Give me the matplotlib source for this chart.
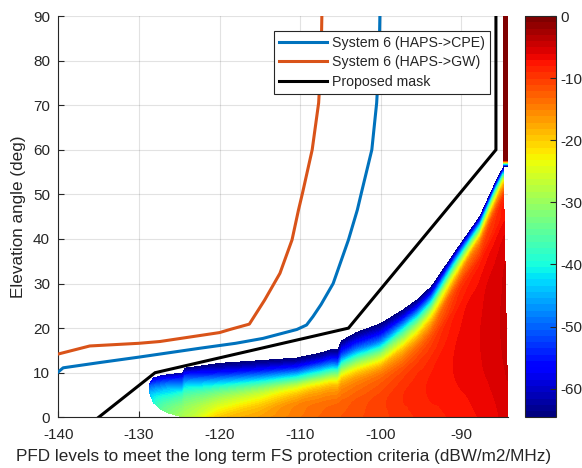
import numpy as np
import matplotlib
matplotlib.use("Agg")
import matplotlib.pyplot as plt
from matplotlib.tri import (Triangulation, UniformTriRefiner,
                            CubicTriInterpolator, LinearTriInterpolator)

plt.rcParams['font.family'] = ['Liberation Sans', 'DejaVu Sans']

TEXT = (0.15, 0.15, 0.15)

# ---- PFD requirement curves (dBW/m2/MHz vs elevation, deg) ----
cpe_pfd = [-140, -139.4, -134.8, -130, -122.4, -118, -114.6, -112.5, -110.4,
           -109.2, -108.4, -107.4, -105.9, -104.0, -102.9, -102.4, -101.1,
           -100.5, -100.2, -100.1]
cpe_elev = [10.2, 11.1, 12.3, 13.5, 15.5, 16.6, 17.7, 18.7, 19.7,
            20.7, 22.6, 25.3, 30, 39.8, 46.5, 50.3, 60, 70.5, 80, 90]

gw_pfd = [-140, -136.1, -130, -127.4, -120, -118.7, -116.3, -114.4, -112.5,
          -111.0, -110.2, -109.7, -108.5, -107.7, -107.4, -107.3]
gw_elev = [14.2, 16.0, 16.6, 17.0, 19.0, 19.7, 20.9, 26.3, 32.3,
           39.8, 46.5, 50.3, 60, 70.5, 80, 90]

mask_pfd = [-135, -128, -104, -85.7, -85.7]
mask_elev = [0, 10, 20, 60, 90]

# ---- Interference field (dB) on a boundary-following grid ----
# columns: PFD value, lower and upper elevation limit of the valid region
field_pfd = [-128.7, -128.2, -127.3, -126.2, -124.6, -124.3, -120.0, -115.0,
             -110.4, -107.5, -106.0, -105.3, -104.8, -103.0, -100.0, -97.2,
             -95.5, -93.7, -90.6, -87.7, -85.8, -84.5]
field_elev_low = [5.6, 3.3, 1.8, 0.9, 0.1, 0, 0, 0,
                  0, 0, 0, 0, 0, 0, 0, 0,
                  0, 0, 0, 0, 0, 0]
field_elev_high = [7.4, 8.8, 9.3, 9.6, 9.9, 11.0, 12.1, 12.7,
                   13.3, 14.4, 15.2, 15.3, 17.2, 19.0, 21.0, 24.1,
                   26.3, 29.3, 37.5, 45.0, 52.5, 56.0]
# relative position between lower and upper limit for each row
field_rows = [0, 0.25, 0.5, 0.65, 0.8, 0.9, 0.96, 1.0]
# one list per column, from lower limit to upper limit
field_values = [
    [-46, -47, -49, -50, -52, -54, -55, -57],
    [-40, -42, -46, -49, -53, -56, -58, -60],
    [-35, -38, -43, -47, -52, -56, -59, -61],
    [-32, -35, -41, -45, -51, -56, -60, -62],
    [-29, -32, -38, -44, -51, -56, -60, -63],
    [-28, -31, -37, -43, -51, -57, -62, -64.3],
    [-20, -26, -35, -44, -54, -60, -63, -64.3],
    [-17, -21, -31, -42, -53.5, -60, -63, -64.3],
    [-14.5, -16, -25, -38, -52, -59.5, -63, -64.3],
    [-13, -14.5, -22, -35, -50, -59, -63, -64.3],
    [-12.5, -14, -21, -34, -50, -58.5, -62.5, -64.3],
    [-12.3, -13.8, -21, -34, -51, -59, -63, -64.3],
    [-12, -13.5, -20, -33, -50, -58, -62.5, -64.3],
    [-11.3, -12.5, -18.5, -31, -48.5, -57.5, -62, -64.3],
    [-10.5, -11, -16, -28, -47, -57, -62, -64.3],
    [-9.5, -9.3, -13, -21, -38, -53, -61, -64.3],
    [-9, -8.6, -11, -17, -33, -50, -60, -64.3],
    [-8.5, -7.8, -9.5, -13, -26, -45, -58, -64.3],
    [-7.8, -7.0, -7.3, -8.5, -14, -31, -50, -64.3],
    [-7.0, -6.2, -6.2, -6.8, -10, -21, -45, -64.3],
    [-6.3, -5.5, -5.5, -6.0, -8.5, -15, -36, -64.3],
    [-5.5, -4.8, -4.8, -5.3, -7.5, -12, -30, -64.3],
]
# right-hand edge of the field: x at the bottom and at the top of the last column
edge_x_bottom, edge_x_top = -84.2, -84.8

# narrow column at the upper end of the PFD range
strip_pfd = [-84.8, -84.2]
strip_elev = [56.2, 56.7, 57.1, 57.6, 90]
strip_values = [-64, -42, -22, -1, -1]

cmin, cmax = -64.6, 0

# ---- Figure ----
fig = plt.figure(figsize=(5.82, 4.68), dpi=100)
ax = fig.add_axes([0.1002, 0.1083, 0.7727, 0.8575])
cax = fig.add_axes([0.902, 0.1083, 0.0533, 0.8575])

cmap = plt.get_cmap('jet', 64)
levels = np.linspace(cmin, cmax, 65)

# physical node positions of the boundary-following grid
nr, nc = len(field_rows), len(field_pfd)
s = np.array(field_rows)[:, None]
X = np.tile(np.array(field_pfd, dtype=float), (nr, 1))
X[:, -1] = edge_x_bottom + s[:, 0] * (edge_x_top - edge_x_bottom)
lo = np.array(field_elev_low)[None, :]
hi = np.array(field_elev_high)[None, :]
Y = lo + s * (hi - lo)
V = np.array(field_values, dtype=float).T

# triangulate the grid in (column, row) space and refine it smoothly
CI, RI = np.meshgrid(np.arange(nc, dtype=float), np.array(field_rows) * 7.0)
quads = []
for r in range(nr - 1):
    for c in range(nc - 1):
        a = r * nc + c
        quads += [[a, a + 1, a + nc + 1], [a, a + nc + 1, a + nc]]
grid_tri = Triangulation(CI.ravel(), RI.ravel(), quads)
refiner = UniformTriRefiner(grid_tri)
sub = 4
fine_tri, V_f = refiner.refine_field(
    V.ravel(), CubicTriInterpolator(grid_tri, V.ravel(), kind='geom'), subdiv=sub)
_, X_f = refiner.refine_field(
    X.ravel(), LinearTriInterpolator(grid_tri, X.ravel()), subdiv=sub)
_, Y_f = refiner.refine_field(
    Y.ravel(), LinearTriInterpolator(grid_tri, Y.ravel()), subdiv=sub)
V_f = np.clip(V_f, cmin + 0.05, cmax - 0.05)
phys_tri = Triangulation(X_f, Y_f, fine_tri.triangles)

cs = ax.tricontourf(phys_tri, V_f, levels=levels, cmap=cmap,
                    vmin=cmin, vmax=cmax, antialiased=False, zorder=1)

SX, SY = np.meshgrid(strip_pfd, strip_elev)
SV = np.tile(np.array(strip_values, dtype=float)[:, None], (1, 2))
ax.contourf(SX, SY, SV, levels=levels, cmap=cmap, vmin=cmin, vmax=cmax,
            antialiased=False, zorder=1)

ax.plot(cpe_pfd, cpe_elev, color=(0, 0.447, 0.741), lw=2.2,
        label='System 6 (HAPS->CPE)', zorder=3, solid_joinstyle='round')
ax.plot(gw_pfd, gw_elev, color=(0.85, 0.325, 0.098), lw=2.2,
        label='System 6 (HAPS->GW)', zorder=3, solid_joinstyle='round')
ax.plot(mask_pfd, mask_elev, color='black', lw=2.2,
        label='Proposed mask', zorder=3, solid_joinstyle='miter')

ax.set_xlim(-140, -84.2)
ax.set_ylim(0, 90)
xt = [-140, -130, -120, -110, -100, -90]
ax.set_xticks(xt)
ax.set_xticklabels([str(v) for v in xt])
yt = list(range(0, 91, 10))
ax.set_yticks(yt)
ax.set_yticklabels([str(v) for v in yt])
ax.grid(True, color=(0.15, 0.15, 0.15), alpha=0.13, lw=0.8)
ax.set_axisbelow(True)
for side in ('top', 'right'):
    ax.spines[side].set_visible(False)
for side in ('left', 'bottom'):
    ax.spines[side].set_color(TEXT)
    ax.spines[side].set_linewidth(0.8)
ax.tick_params(direction='in', length=4, width=0.8, colors=TEXT,
               labelsize=11, labelcolor=TEXT)
ax.tick_params(axis='x', pad=7.5)
ax.tick_params(axis='y', pad=6)
ax.set_xlabel('PFD levels to meet the long term FS protection criteria (dBW/m2/MHz)',
              fontsize=12.3, color=TEXT, labelpad=5)
ax.set_ylabel('Elevation angle (deg)', fontsize=12.3, color=TEXT, labelpad=5)

leg = ax.legend(loc='upper right', bbox_to_anchor=(0.96, 0.9626), borderaxespad=0,
                fontsize=10.2, frameon=True, fancybox=False, framealpha=1,
                edgecolor=TEXT, handlelength=3.4, handletextpad=0.35,
                labelspacing=0.38, borderpad=0.35)
leg.get_frame().set_linewidth(0.8)
for t in leg.get_texts():
    t.set_color(TEXT)

cb = fig.colorbar(cs, cax=cax, ticks=[0, -10, -20, -30, -40, -50, -60])
cb.ax.set_yticklabels(['0', '-10', '-20', '-30', '-40', '-50', '-60'])
cb.ax.tick_params(direction='in', length=4, width=0.8, colors=TEXT,
                  labelsize=11, labelcolor=TEXT, pad=3.5)
cb.outline.set_edgecolor(TEXT)
cb.outline.set_linewidth(0.8)
cb.ax.set_ylim(cmin, cmax)

fig.savefig('out.png', dpi=100)
